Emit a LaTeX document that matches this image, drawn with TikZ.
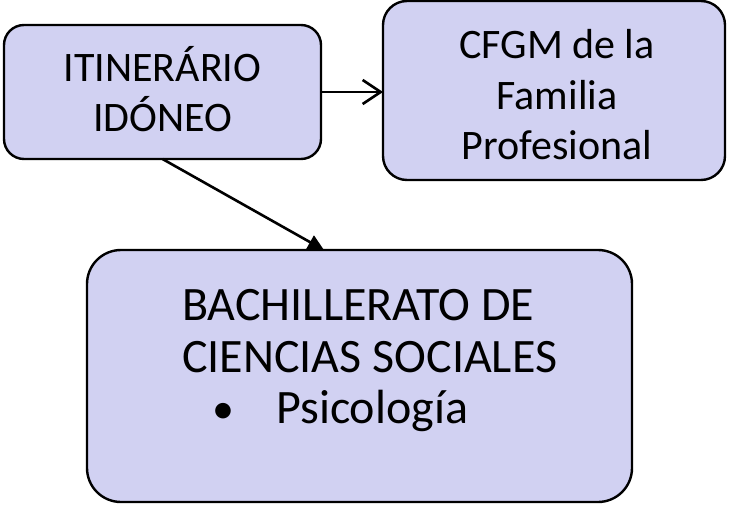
\documentclass[tikz,border=0pt]{standalone}
\usepackage{fontspec}
\setmainfont{Carlito}
\usetikzlibrary{arrows.meta}
\definecolor{boxfill}{RGB}{209,209,242}
\tikzset{
  boxshape/.style={draw=black, line width=2.4pt, fill=boxfill, rectangle, inner sep=0pt, outer sep=0pt},
  smalltxt/.style={font=\fontsize{42}{50}\selectfont, inner sep=0pt, anchor=base},
  bigtxt/.style={font=\fontsize{48}{54}\selectfont, inner sep=0pt, anchor=base west},
  conn/.style={line width=2.6pt, black},
}
\begin{document}
\begin{tikzpicture}[x=1pt,y=-1pt]
\useasboundingbox (0,0) rectangle (733,505);
% boxes
\node[boxshape, rounded corners=20pt, minimum width=317pt, minimum height=134pt] (box1) at (162.5,92) {};
\node[boxshape, rounded corners=24pt, minimum width=342pt, minimum height=179pt] (box2) at (554,90.5) {};
\node[boxshape, rounded corners=34pt, minimum width=545pt, minimum height=252pt] (box3) at (359.5,376) {};
% texts
\node[smalltxt] (t1a) at (162.5,82) {ITINERÁRIO};
\node[smalltxt] (t1b) at (162.5,132) {IDÓNEO};
\node[smalltxt] (t2a) at (557,59) {CFGM de la};
\node[smalltxt] (t2b) at (557,110) {Familia};
\node[smalltxt] (t2c) at (557,160) {Profesional};
\node[bigtxt] (t3a) at (182,320) {BACHILLERATO DE};
\node[bigtxt] (t3b) at (182,372) {CIENCIAS SOCIALES};
\node[bigtxt, anchor=base, font=\fontsize{44}{50}\selectfont] (t3bul) at (223,423) {•};
\node[bigtxt] (t3c) at (276,423) {Psicología};
% connectors
\draw[conn, -{Straight Barb[length=18pt, width=24pt, line width=2.6pt]}] (box1.east) -- (box1.east -| box2.west);
\draw[conn, -{Triangle[length=16pt, width=15pt]}] (box1.south) -- ([xshift=-35.5pt]box3.north);
\end{tikzpicture}
\end{document}
